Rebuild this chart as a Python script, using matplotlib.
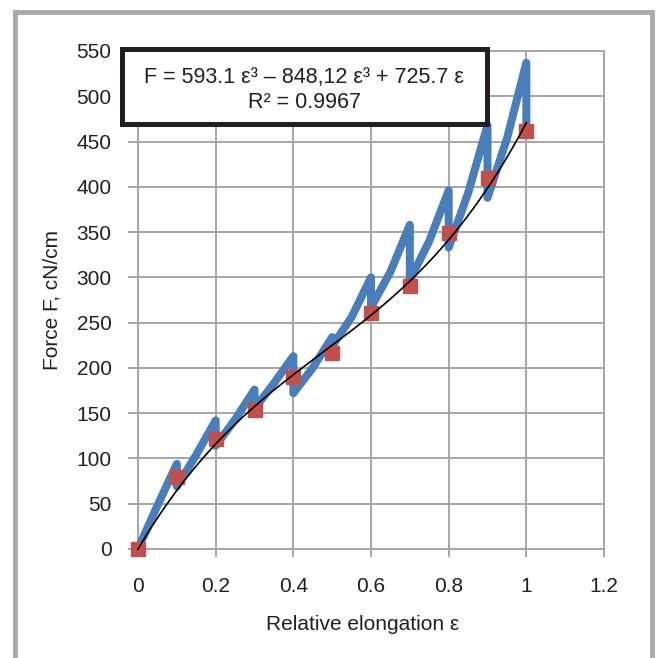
import numpy as np
import matplotlib
matplotlib.use('Agg')
import matplotlib.pyplot as plt
from matplotlib.patches import Rectangle
from matplotlib.lines import Line2D

plt.rcParams['font.family'] = ['Liberation Sans', 'DejaVu Sans']

# measured loading curve (sawtooth with relaxation drops)
blue_eps = [0, 0.05, 0.1, 0.1, 0.15, 0.2, 0.2, 0.25, 0.3, 0.3, 0.35, 0.4,
            0.4, 0.45, 0.5, 0.5, 0.55, 0.6, 0.6, 0.65, 0.7, 0.7, 0.75, 0.8,
            0.8, 0.85, 0.9, 0.9, 0.95, 1.0, 1.0]
blue_F = [0, 48, 94, 69, 104, 142, 114, 143, 176, 155, 183, 213,
          172, 200, 234, 224, 256, 300, 267, 306, 358, 297, 340, 396,
          333, 393, 468, 388, 453, 537, 466]

# relaxed points
sq_eps = [0, 0.1, 0.2, 0.3, 0.4, 0.5, 0.6, 0.7, 0.8, 0.9, 1.0]
sq_F = [0, 80, 121, 153, 190, 217, 261, 290, 349, 410, 462]

# trendline coefficients (eps^3, eps^2, eps, const)
fit_coef = [593.1, -848.12, 725.7, 0]

eq_text = 'F = 593.1 ε³ – 848,12 ε³ + 725.7 ε'
r2_text = 'R² = 0.9967'

grid_c = '#a6a6a6'
txt_c = '#231f20'

W, H = 656, 658
fig = plt.figure(figsize=(W / 100, H / 100), dpi=100, facecolor='white')
ax = fig.add_axes([138 / W, 109 / H, 466 / W, 498 / H])

x_fit = np.linspace(0, 1, 200)
ax.plot(blue_eps, blue_F, color='#4a7ebb', lw=5.8, solid_capstyle='round',
        solid_joinstyle='round', zorder=3, clip_on=False)
ax.plot(sq_eps, sq_F, 's', color='#c0504d', ms=10.5, mec='#c0504d', zorder=4,
        clip_on=False)
ax.plot(x_fit, np.polyval(fit_coef, x_fit), color='black', lw=1.2, zorder=5,
        clip_on=False)

ax.set_xlim(0, 1.2)
ax.set_ylim(0, 550)
ax.set_xticks(np.arange(0, 1.21, 0.2))
ax.set_xticklabels(['0', '0.2', '0.4', '0.6', '0.8', '1', '1.2'])
ax.set_yticks(np.arange(0, 551, 50))
ax.grid(True, color=grid_c, lw=1.4)
ax.set_axisbelow(True)
for s in ax.spines.values():
    s.set_color(grid_c)
    s.set_linewidth(1.4)
ax.tick_params(axis='x', direction='out', length=6, width=1.4, color=grid_c,
               pad=14, labelsize=15, labelcolor=txt_c)
ax.tick_params(axis='y', direction='out', length=7, width=1.4, color=grid_c,
               pad=12, labelsize=15, labelcolor=txt_c)

ax.set_xlabel('Relative elongation ε', fontsize=15, color=txt_c, va='center')
ax.xaxis.set_label_coords(0.483, -0.1526)
ax.set_ylabel('Force F, cN/cm', fontsize=15, color=txt_c, va='center')
ax.yaxis.set_label_coords(-0.185, 0.5)

# equation box
fig.patches.append(Rectangle((122 / W, 1 - 124 / H), 365 / W, 75 / H,
                             transform=fig.transFigure, facecolor='white',
                             edgecolor=txt_c, lw=3.6, zorder=6))
fig.text(304 / W, 1 - 77 / H, eq_text, ha='center', va='center', fontsize=15.5,
         color=txt_c, zorder=7)
fig.text(304 / W, 1 - 102 / H, r2_text, ha='center', va='center', fontsize=15.5,
         color=txt_c, zorder=7)

# outer frame
frame_c = '#a7a9ac'
fig.lines.append(Line2D([15 / W, 15 / W, 652 / W, 652 / W],
                        [-0.05, 1 - 12 / H, 1 - 12 / H, -0.05],
                        transform=fig.transFigure, color=frame_c, lw=3.5,
                        solid_joinstyle='miter'))

fig.savefig('out.png', dpi=100, facecolor='white')
